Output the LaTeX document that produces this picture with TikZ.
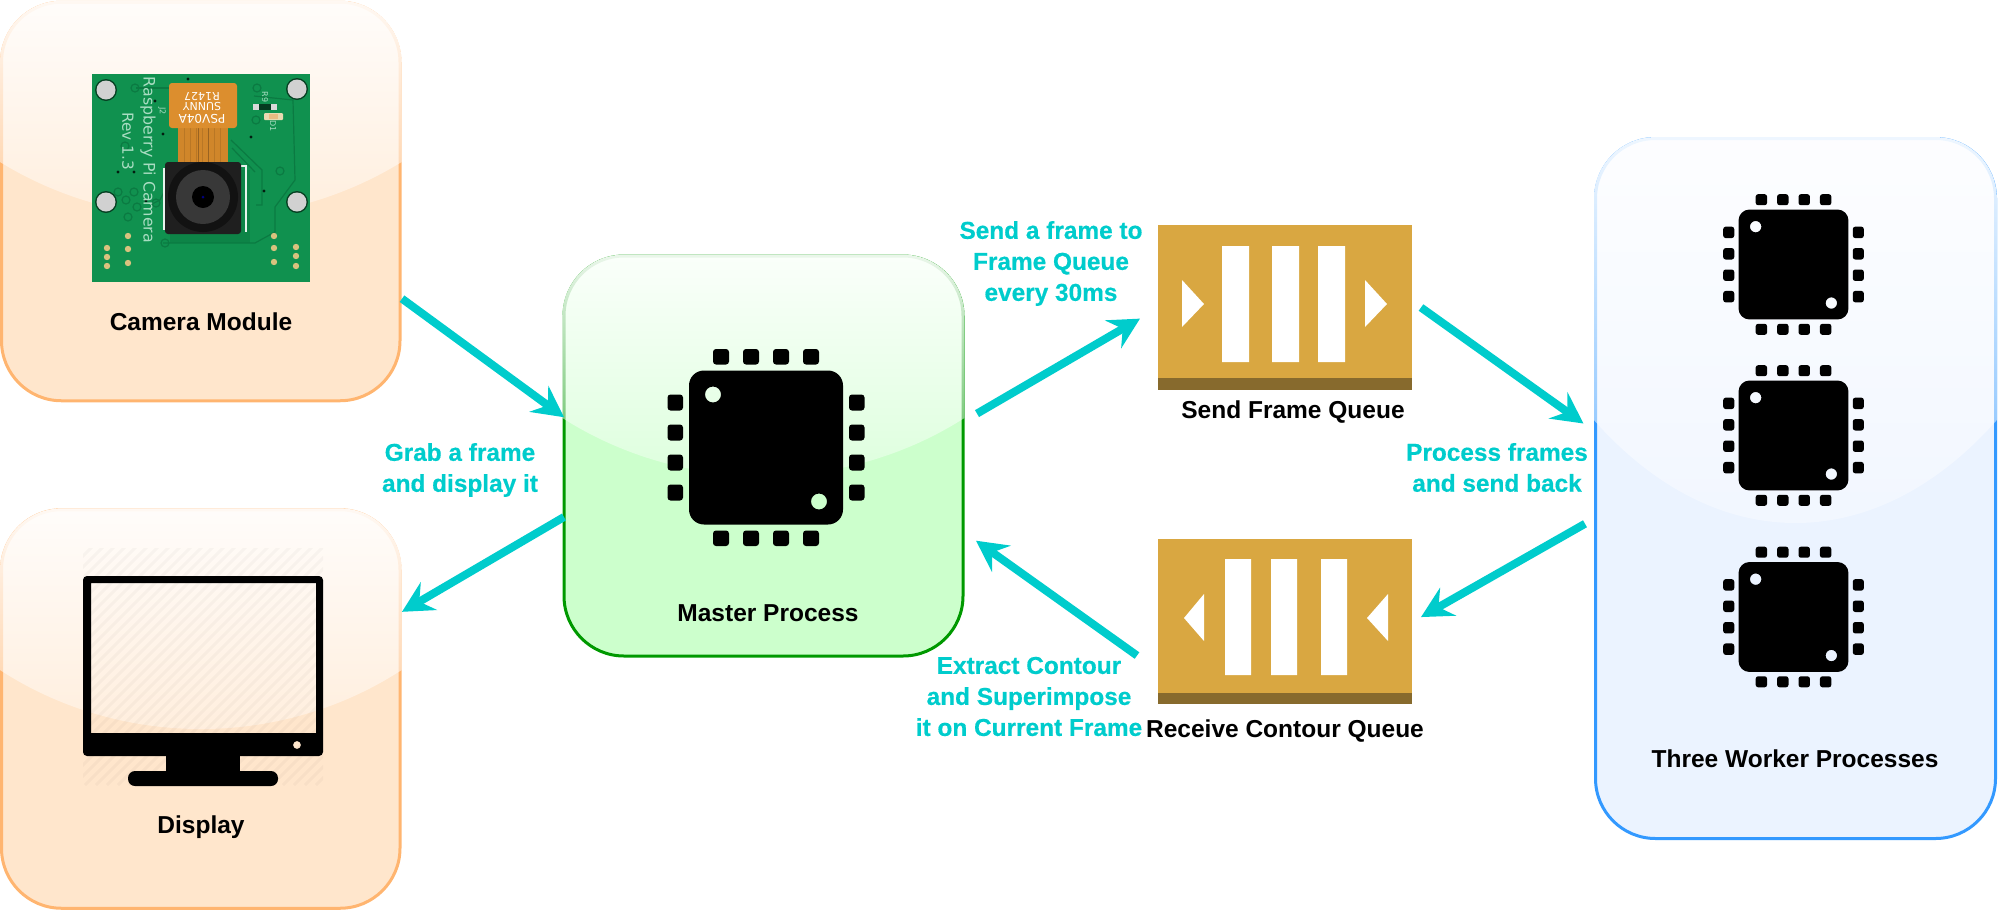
\documentclass[tikz,border=0pt]{standalone}
\usepackage{fontspec}
\setmainfont{Liberation Sans}
\font\blackfont="Liberation Sans Bold" at 24.5pt
\font\cyanfont="Liberation Sans Bold:embolden=0.5" at 24.4pt
\newfontfamily\pcbfont{DejaVu Sans}
\usetikzlibrary{arrows.meta,fadings,calc}
\definecolor{cyanarrow}{HTML}{00CCCC}
\definecolor{orangefill}{HTML}{FFE6CC}
\definecolor{orangeline}{HTML}{FFB570}
\definecolor{greenfill}{HTML}{CCFFCC}
\definecolor{greenline}{HTML}{009900}
\definecolor{bluefill}{HTML}{EBF3FF}
\definecolor{blueline}{HTML}{3399FF}
\definecolor{queuefill}{HTML}{D9A741}
\definecolor{queuedark}{HTML}{876A2D}
\definecolor{pcb}{HTML}{10914F}
\definecolor{pcbdark}{HTML}{0B7A42}
\definecolor{pcbtext}{HTML}{A9DDC2}
\definecolor{flex}{HTML}{DC8E2E}
\definecolor{flexdark}{HTML}{D0862A}
\definecolor{pad}{HTML}{D9C27E}
\tikzfading[name=glassfade, top color=transparent!8, bottom color=transparent!70]
\tikzset{
  panel/.style={draw, line width=3pt, rounded corners=60pt, inner sep=0pt, outer sep=0pt},
  queuebox/.style={fill=queuefill, inner sep=0pt, outer sep=0pt, minimum width=254pt, minimum height=165pt},
  flow/.style={draw=cyanarrow, line width=8pt, -{Stealth[length=31pt,width=32pt,inset=11pt]}},
  blacklabel/.style={font=\blackfont, text=black, inner sep=0pt, anchor=base},
  cyanlabel/.style={font={\fontsize{24.4}{31}\selectfont\cyanfont}, text=cyanarrow, inner sep=0pt, align=center},
  silk/.style={font=\pcbfont\fontsize{#1}{#1}\selectfont, text=pcbtext, inner sep=0pt},
}
% x0 y0 x1 yc depth : glass highlight
\newcommand{\glasspanel}[5]{%
  \fill[white, path fading=glassfade]
    ({#1-1.5},#4) -- ({#1-1.5},{#2+60}) arc[start angle=180,end angle=90,radius=61.5pt]
    -- ({#3-60},{#2-1.5}) arc[start angle=90,end angle=0,radius=61.5pt]
    -- ({#3+1.5},#4)
    .. controls ({#3-0.30*(#3-#1)},{#4+1.333*#5}) and ({#1+0.30*(#3-#1)},{#4+1.333*#5}) .. ({#1-1.5},#4) -- cycle;
}
% cx cy scale radius-body radius-pin
\newcommand{\chipicon}[5]{%
  \begin{scope}[shift={(#1,#2)},scale=#3]
    \fill[black, even odd rule]
      [rounded corners=#4pt] (-77,-77) rectangle (77,77)
      [sharp corners] (-53,-53) circle[radius=8]
      (53,54) circle[radius=8];
    \foreach \p in {-45,-15,15,45}{
      \fill[black, rounded corners=#5pt] (\p-8,-98.5) rectangle (\p+8,-83);
      \fill[black, rounded corners=#5pt] (\p-8,83) rectangle (\p+8,98.5);
      \fill[black, rounded corners=#5pt] (-98.5,\p-8) rectangle (-83,\p+8);
      \fill[black, rounded corners=#5pt] (83,\p-8) rectangle (98.5,\p+8);
    }
  \end{scope}%
}
\begin{document}
\begin{tikzpicture}[x=1pt,y=-1pt]
\useasboundingbox (0,0) rectangle (1998,911);

% panels
\node (camera) [panel, draw=orangeline, fill=orangefill, minimum width=398.5pt, minimum height=398.5pt] at (200.75,201.5) {};
\node (display) [panel, draw=orangeline, fill=orangefill, minimum width=398.5pt, minimum height=398.5pt] at (200.75,709) {};
\node (master) [panel, draw=greenline, fill=greenfill, minimum width=399pt, minimum height=400pt] at (763.5,456) {};
\node (workers) [panel, draw=blueline, fill=bluefill, minimum width=400pt, minimum height=700pt] at (1795.5,488.5) {};
\glasspanel{1.5}{2.2}{400}{162}{56}
\glasspanel{1.5}{509.8}{400}{670}{59}
\glasspanel{564}{256}{963}{418}{58}
\glasspanel{1595.5}{138.5}{1995.5}{420}{103}

% camera board
\fill[pcb] (92,74) rectangle (310,282);
\begin{scope}
  \clip (92,74) rectangle (310,282);
  \fill[pcbdark, opacity=.55] (170,170) rectangle (250,243);
  \draw[pcbdark, line width=1.2pt] (254,96) -- (293,100) -- (295,180) -- (275,207) -- (275,232) -- (255,243) -- (163,243);
  \draw[pcbdark, line width=1.2pt] (231,140) -- (262,170) -- (262,205) -- (256,205);
  \draw[pcbdark, line width=1.2pt] (232,148) -- (255,172);
  \draw[pcbdark, line width=1.2pt] (136,88) -- (170,88);
  \draw[pcbdark, line width=1.2pt] (150,205) -- (160,200) -- (165,190);
  \foreach \x/\y in {135/88,125/146,118/192,126/200,134/192,128/217,137/207,156/203,280/171,256/120,165/243,257/88}{
    \draw[pcbdark, line width=1.2pt] (\x,\y) circle[radius=4];
  }
  \foreach \x/\y in {188/79,118/172,134/172,264/191,251/137,146/201,163/134,155/101}{
    \fill[black!80!pcb] (\x,\y) circle[radius=1.6];
  }
\end{scope}
\foreach \x/\y in {106/90,297/89,106/202,297/202}{
  \fill[black!55!pcb] (\x,\y) circle[radius=11];
  \fill[black!18!white] (\x,\y) circle[radius=9.5];
}
\foreach \x/\y in {128/236,128/249,128/263,107/248,107/257,107/266,274/236,274/248,274/262,296/247,296/256,296/266}{
  \fill[pad] (\x,\y) circle[radius=3.2];
}
% flex cable
\fill[flexdark] (178,126) rectangle (228,164);
\foreach \x in {184,190,196,202,208,214,220}{\draw[flex!60!black, line width=.5pt, opacity=.3] (\x,128) -- (\x,162);}
\foreach \x in {198,208}{\draw[flex!70!black, line width=1pt] (\x,128) -- (\x,162);}
\fill[flex, rounded corners=3pt] (169,83) rectangle (237,128);
\node (flexa) [silk=12, text=white, rotate=180, inner sep=0pt] at (202,119) {PSV04A};
\node (flexb) [silk=11, text=white, rotate=180, inner sep=0pt] at (202,107) {SUNNY};
\node (flexc) [silk=11, text=white, rotate=180, inner sep=0pt] at (202,96.5) {R1427};
% camera body
\draw[white!90!pcb, line width=1.5pt] (164,168) -- (164,230);
\draw[white!90!pcb, line width=1.5pt] (241,166) -- (246,166) -- (246,232);
\fill[black!88!white, rounded corners=3pt] (165,162) rectangle (241,234);
\fill[black!93!white] (203,197) circle[radius=35];
\fill[black!78!white] (203,197) circle[radius=27];
\fill[black] (203,197) circle[radius=11];
\fill[blue!50!black] (203,197) circle[radius=1.5];
% silk text
\node (silkname) [silk=15.8, rotate=-90] at (148,160) {Raspberry Pi Camera};
\node (silkrev) [silk=15.3, rotate=-90] at (128,141) {Rev 1.3};
\node (silkj) [silk=8, rotate=-90] at (162,111) {J2};
\node (silkr) [silk=8, rotate=-90] at (265,97) {R9};
\node (silkd) [silk=8, rotate=-90] at (273,126) {D1};
\fill[black!15!white] (253,104) rectangle (277,110);
\fill[black!60!pcb] (259,104) rectangle (271,110);
\fill[pad!60!white, rounded corners=1pt] (264,113) rectangle (283,120);
\fill[flex!60!white] (269,114) rectangle (278,119);

% display icon
\begin{scope}
  \clip (83,548) rectangle (323,785);
  \foreach \k in {0,11,...,500}{
    \draw[black, opacity=.028, line width=3pt] ({83+\k-240},785) -- ({83+\k},545);
  }
\end{scope}
\fill[black, even odd rule, rounded corners=4pt]
   (83,576) rectangle (323,756)
   [sharp corners] (91,583) rectangle (316,733)
   (297,745) circle[radius=4];
\fill[black] (166,755) rectangle (240,772);
\fill[black, rounded corners=7pt] (128,771) rectangle (278,786);

% chips
\chipicon{766}{447.5}{1}{15}{3}
\chipicon{1793.5}{264.5}{.714}{11}{2.5}
\chipicon{1793.5}{435.5}{.714}{11}{2.5}
\chipicon{1793.5}{617}{.714}{11}{2.5}

% queues
\node (sendq) [queuebox] at (1285,307.5) {};
\fill[queuedark] (1158,378) rectangle (1412,390);
\fill[white] (1222,246) rectangle (1249,362) (1272,246) rectangle (1299,362) (1318,246) rectangle (1345,362);
\fill[white] (1182,280) -- (1204,304) -- (1182,327) -- cycle;
\fill[white] (1365,280) -- (1387,304) -- (1365,327) -- cycle;
\node (recvq) [queuebox] at (1285,621.5) {};
\fill[queuedark] (1158,693) rectangle (1412,704);
\fill[white] (1225,559) rectangle (1251,675) (1271,559) rectangle (1297,675) (1321,559) rectangle (1347,675);
\fill[white] (1204,594) -- (1184,618) -- (1204,641) -- cycle;
\fill[white] (1388,594) -- (1367,618) -- (1388,641) -- cycle;

% black labels
\node (lcamera) [blacklabel] at (201,330) {Camera Module};
\node (ldisplay) [blacklabel] at (201,833) {Display};
\node (lmaster) [blacklabel] at (768,621) {Master Process};
\node (lsend) [blacklabel] at (1293,418) {Send Frame Queue};
\node (lrecv) [blacklabel] at (1285,737) {Receive Contour Queue};
\node (lworkers) [blacklabel] at (1795,767) {Three Worker Processes};

% cyan labels
\node (cgrab) [cyanlabel] at (460,470) {Grab a frame\\and display it};
\node (csend) [cyanlabel] at (1051,263.5) {Send a frame to\\Frame Queue\\every 30ms};
\node (cproc) [cyanlabel] at (1497,467.5) {Process frames\\and send back};
\node (cextr) [cyanlabel] at (1029,696.5) {Extract Contour\\and Superimpose\\it on Current Frame};

% connectors
\draw[flow] ([xshift=2pt]camera.-26.7) -- (master.169.5);
\draw[flow] (master.197.87) -- ([xshift=2pt]display.26.5);
\draw[flow] ([xshift=14pt]master.12.7) -- ([xshift=-18pt]sendq.185.6);
\draw[flow] ([xshift=-21pt]recvq.195.2) -- ([xshift=13pt]master.-23.3);
\draw[flow] ([xshift=9pt]sendq.east) -- ([xshift=-12pt]workers.162.5);
\draw[flow] ([xshift=-10.5pt]workers.190.76) -- ([xshift=9pt]recvq.2.93);
\end{tikzpicture}
\end{document}
